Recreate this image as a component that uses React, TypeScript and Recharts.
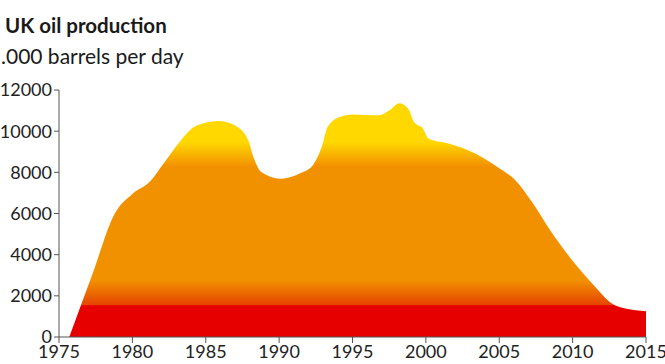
import { AreaChart, Area, XAxis, YAxis } from "recharts";

const years = [
  1975.7, 1977.25, 1978.8, 1980, 1981.2, 1982.2, 1983.3, 1984, 1984.9, 1985.9, 1987, 1987.9,
  1988.3, 1988.8, 1990.1, 1991.5, 1992.3, 1992.9, 1993.3, 1994.1, 1995, 1996.8, 1997.5,
  1998.2, 1998.8, 1999.2, 1999.8, 2000.2, 2001.6, 2003.4, 2005, 2006.1, 2007.3, 2008.4,
  2009.8, 2011.35, 2012.7, 2013.6, 2015,
];
const production = [
  0, 3000, 6000, 6950, 7550, 8500, 9550, 10100, 10400, 10500, 10280, 9550,
  8650, 8000, 7690, 7980, 8350, 9230, 10200, 10680, 10810, 10770, 11000,
  11360, 11090, 10440, 10120, 9630, 9390, 8900, 8200, 7610, 6480, 5260,
  3880, 2590, 1620, 1380, 1250,
];
const xTicks = [1975, 1980, 1985, 1990, 1995, 2000, 2005, 2010, 2015];
const yTicks = [0, 2000, 4000, 6000, 8000, 10000, 12000];

const data = years.map((year, i) => ({ year, value: production[i] }));

const font = "Lato, 'Liberation Sans', sans-serif";

export default function App() {
  return (
    <div style={{ position: "absolute", left: 0, top: 0, width: 665, height: 364, fontFamily: font, background: "#fff" }}>
      <div style={{ position: "absolute", left: 5, top: 13, fontSize: 20.5, fontWeight: 700, color: "#1a1a1a" }}>
        UK oil production
      </div>
      <div style={{ position: "absolute", left: 1, top: 43, fontSize: 21, color: "#1a1a1a" }}>
        .000 barrels per day
      </div>
      <AreaChart width={665} height={364} data={data} margin={{ top: 90, right: 19, bottom: 0, left: 0 }}>
        <defs>
          <linearGradient id="oilGrad" gradientUnits="userSpaceOnUse" x1="0" y1="337" x2="0" y2="90">
            <stop offset="0" stopColor="#e60000" />
            <stop offset="0.127" stopColor="#e60000" />
            <stop offset="0.13" stopColor="#e64500" />
            <stop offset="0.23" stopColor="#f29100" />
            <stop offset="0.69" stopColor="#f29100" />
            <stop offset="0.79" stopColor="#ffd800" />
            <stop offset="1" stopColor="#ffd800" />
          </linearGradient>
        </defs>
        <XAxis
          dataKey="year"
          type="number"
          domain={[1975, 2015]}
          ticks={xTicks}
          height={27}
          tickSize={6}
          tickMargin={2}
          stroke="#555"
          tick={{ fill: "#222", fontSize: 18, fontFamily: font }}
          interval={0}
        />
        <YAxis
          domain={[0, 12000]}
          ticks={yTicks}
          width={59}
          tickSize={5}
          tickMargin={2}
          stroke="#555"
          tick={{ fill: "#222", fontSize: 18, fontFamily: font }}
          interval={0}
        />
        <Area
          type="monotone"
          dataKey="value"
          stroke="none"
          fill="url(#oilGrad)"
          fillOpacity={1}
          isAnimationActive={false}
        />
      </AreaChart>
    </div>
  );
}
